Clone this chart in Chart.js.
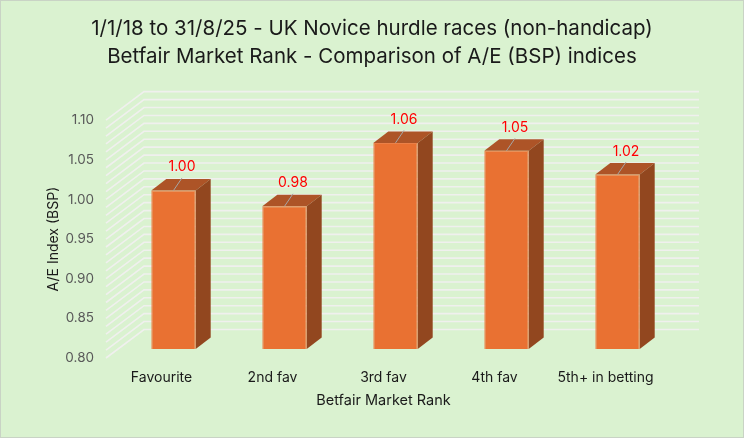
<!DOCTYPE html>
<html>
<head>
<meta charset="utf-8">
<title>Betfair Market Rank</title>
<script src="https://cdn.jsdelivr.net/npm/chart.js@4"></script>
<style>
html, body { margin: 0; padding: 0; background: #fff; }
#wrap { position: absolute; left: 0; top: 0; width: 742px; height: 436px; border: 1px solid #c9d3c5; }
</style>
</head>
<body>
<div id="wrap"><canvas id="chart" width="742" height="436"></canvas></div>
<script>
// chart data
var categories = ['Favourite', '2nd fav', '3rd fav', '4th fav', '5th+ in betting'];
var aeValues = [1.00, 0.98, 1.06, 1.05, 1.02];
var valueLabels = ['1.00', '0.98', '1.06', '1.05', '1.02'];
var titleLines = ['1/1/18 to 31/8/25 - UK Novice hurdle races (non-handicap)', 'Betfair Market Rank - Comparison of A/E (BSP) indices'];

// pseudo 3D depth: wall sits behind the axis plane, bars sit part way back
var wallDx = 38, wallDy = 28.5;
var barDx = 12, barDy = 9;
var faceDx = 15, faceDy = 11.5;
var fontName = "Inter, sans-serif";

var depth3d = {
    id: 'depth3d',
    beforeDatasetsDraw: function (chart) {
        var c = chart.ctx, y = chart.scales.y, area = chart.chartArea;
        c.save();
        c.strokeStyle = '#f0f0ee';
        c.lineWidth = 1.6;
        y.ticks.forEach(function (t) {
            var py = y.getPixelForValue(t.value);
            c.beginPath();
            c.moveTo(area.left, py);
            c.lineTo(area.left + wallDx, py - wallDy);
            c.lineTo(area.right + wallDx, py - wallDy);
            c.stroke();
        });
        c.restore();

        c.save();
        c.translate(barDx, -barDy);
        chart.getDatasetMeta(0).data.forEach(function (b) {
            var l = b.x - b.width / 2, r = b.x + b.width / 2;
            c.fillStyle = '#ad5427';
            c.beginPath();
            c.moveTo(l, b.y);
            c.lineTo(l + faceDx, b.y - faceDy);
            c.lineTo(r + faceDx, b.y - faceDy);
            c.lineTo(r, b.y);
            c.closePath();
            c.fill();
            c.fillStyle = '#92471f';
            c.beginPath();
            c.moveTo(r, b.y);
            c.lineTo(r + faceDx, b.y - faceDy);
            c.lineTo(r + faceDx, b.base - faceDy);
            c.lineTo(r, b.base);
            c.closePath();
            c.fill();
        });
    },
    afterDatasetsDraw: function (chart) {
        var c = chart.ctx;
        c.font = '14px ' + fontName;
        c.textAlign = 'center';
        c.textBaseline = 'alphabetic';
        chart.getDatasetMeta(0).data.forEach(function (b, i) {
            c.strokeStyle = '#a6a6a6';
            c.lineWidth = 1;
            c.beginPath();
            c.moveTo(b.x, b.y);
            c.lineTo(b.x + 8.5, b.y - 12.5);
            c.stroke();
            c.fillStyle = '#ff0000';
            c.fillText(valueLabels[i], b.x + 8.5, b.y - 19);
        });
        c.restore();
    }
};

new Chart(document.getElementById('chart'), {
    type: 'bar',
    data: {
        labels: categories,
        datasets: [{
            data: aeValues,
            base: 0.8,
            backgroundColor: '#e97132',
            borderColor: '#eb8047',
            borderWidth: 1,
            barPercentage: 0.4,
            categoryPercentage: 1
        }]
    },
    options: {
        responsive: false,
        animation: false,
        plugins: {
            legend: { display: false },
            tooltip: { enabled: false },
            title: {
                display: true,
                text: titleLines,
                color: '#1a1a1a',
                font: { family: fontName, size: 20.5, weight: 'normal', lineHeight: 1.37 },
                padding: { top: 14, bottom: 49 }
            }
        },
        scales: {
            x: {
                grid: { display: false },
                border: { display: false },
                ticks: { color: '#1a1a1a', font: { family: fontName, size: 14 }, maxRotation: 0, autoSkip: false, padding: 3 },
                title: { display: true, text: 'Betfair Market Rank', color: '#1a1a1a', font: { family: fontName, size: 14.5 }, padding: { top: 3, bottom: 28 } },
                afterFit: function (s) { s.height = 79; }
            },
            y: {
                min: 0.8,
                max: 1.1,
                grid: { display: false },
                border: { display: false },
                afterBuildTicks: function (s) {
                    var list = [];
                    for (var n = 80; n <= 110; n++) list.push({ value: n / 100 });
                    s.ticks = list;
                },
                ticks: {
                    autoSkip: false,
                    color: '#595959',
                    font: { family: fontName, size: 13.5 },
                    padding: 4,
                    callback: function (v) {
                        return Math.round(v * 100) % 5 === 0 ? v.toFixed(2) : '';
                    }
                },
                title: { display: true, text: 'A/E Index (BSP)', color: '#1a1a1a', font: { family: fontName, size: 14 }, padding: { top: 44, bottom: 0 } },
                afterFit: function (s) { s.width = 105; }
            },
            // empty axis, only keeps room on the right for the back wall
            spacer: {
                position: 'right',
                grid: { display: false },
                border: { display: false },
                ticks: { display: false },
                afterFit: function (s) { s.width = 82; }
            }
        }
    },
    plugins: [
        { id: 'paperBg', beforeDraw: function (chart) {
            chart.ctx.save();
            chart.ctx.fillStyle = '#daf2d0';
            chart.ctx.fillRect(0, 0, chart.width, chart.height);
            chart.ctx.restore();
        } },
        depth3d
    ]
});
</script>
</body>
</html>
